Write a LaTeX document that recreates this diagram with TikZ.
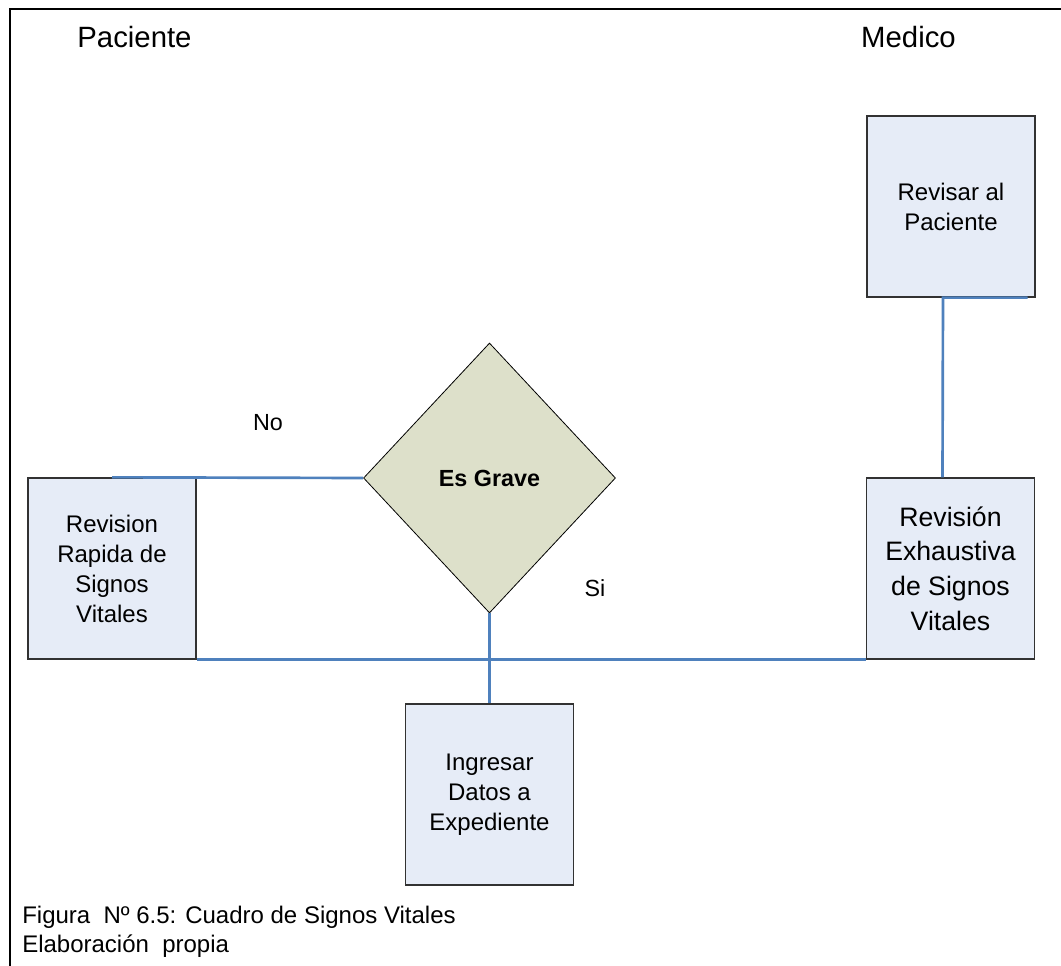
\documentclass[tikz,border=0pt]{standalone}
\usepackage{fontspec}
\setmainfont{Liberation Sans}
\usetikzlibrary{shapes.geometric}
\definecolor{boxfill}{RGB}{230,236,247}
\definecolor{boxline}{RGB}{50,50,50}
\definecolor{dfill}{RGB}{221,224,202}
\definecolor{connblue}{RGB}{79,129,189}
\begin{document}
\begin{tikzpicture}[x=0.75pt,y=-0.75pt,
  procbox/.style={draw=boxline,line width=1pt,fill=boxfill,minimum width=126pt,minimum height=135.75pt,inner sep=0pt,align=center,font=\fontsize{18}{22.5}\selectfont},
  decision/.style={diamond,draw=black,line width=0.6pt,fill=dfill,minimum width=189pt,minimum height=202.5pt,inner sep=0pt,font=\fontsize{17.5}{21}\selectfont\bfseries},
  conn/.style={draw=connblue,line width=2pt},
  lbl/.style={inner sep=0pt,anchor=base,font=\fontsize{17.5}{21}\selectfont},
  title/.style={inner sep=0pt,anchor=base,font=\fontsize{22}{26}\selectfont},
  caption/.style={inner sep=0pt,anchor=base west,font=\fontsize{18}{21}\selectfont},
  frame/.style={draw=black,line width=1.8pt}]
\useasboundingbox (0,0) rectangle (1061,966);
\fill[white] (0,0) rectangle (1061,966);
% page frame (top and left)
\coordinate (ftr) at (1061,9);
\coordinate (ftl) at (10,9);
\coordinate (fbl) at (10,966);
\draw[frame] (ftr) -- (ftl) -- (fbl);
% titles
\node[title] (tpac) at (134.5,48) {Paciente};
\node[title] (tmed) at (908.5,48) {Medico};
% nodes
\node[procbox] (rp) at (951,206.5) {Revisar al\\Paciente};
\node[procbox,font=\fontsize{20}{26}\selectfont] (re) at (950.5,568.5) {Revisión\\Exhaustiva\\de Signos\\Vitales};
\node[procbox] (rr) at (112,568.5) {Revision\\Rapida de\\Signos\\Vitales};
\node[procbox] (ing) at (489.5,794.5) {Ingresar\\Datos a\\Expediente};
\node[decision] (d) at (489.5,478) {Es Grave};
% connectors
\draw[conn] ([xshift=-6pt]rp.south east) -- ([xshift=-6pt]rp.south) -- ([xshift=-6pt]re.north);
\draw[conn] (rr.north) -- (d.west);
\draw[conn] (rr.south east) -- (re.south west);
\draw[conn] (d.south) -- (ing.north);
% labels
\node[lbl] (lno) at (268,431) {No};
\node[lbl] (lsi) at (595,596) {Si};
% caption
\node[caption] (cap1) at (22,923) {Figura\ \ Nº 6.5: Cuadro de Signos Vitales};
\node[caption] (cap2) at (22,952) {Elaboración\ \ propia};
\end{tikzpicture}
\end{document}
